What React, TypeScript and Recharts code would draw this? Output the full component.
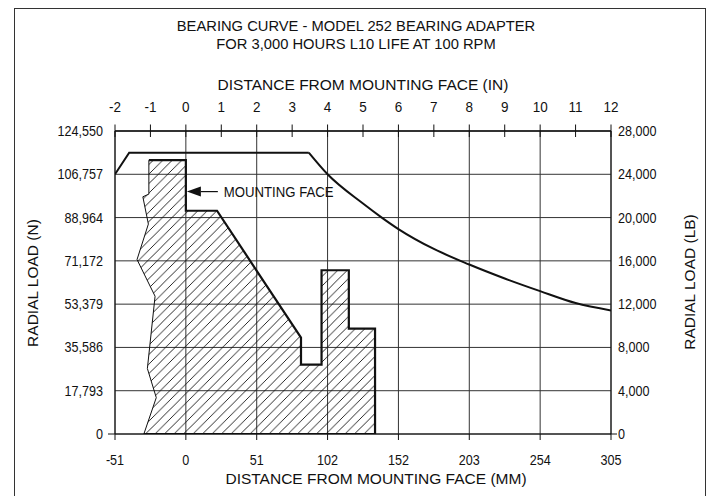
import React from 'react';
import {
  ComposedChart,
  XAxis,
  YAxis,
  CartesianGrid,
  Line,
  Area,
  ReferenceDot
} from 'recharts';

// ==========================================
// DATA (x = inches from mounting face, y = lb)
// ==========================================

const inchTicks = [-2, -1, 0, 1, 2, 3, 4, 5, 6, 7, 8, 9, 10, 11, 12];
const mmTickInches = [-2, 0, 2, 4, 6, 8, 10, 12];
const mmLabels = ['-51', '0', '51', '102', '152', '203', '254', '305'];
const newtonTicks = [0, 17793, 35586, 53379, 71172, 88964, 106757, 124550];
const poundTicks = [0, 4000, 8000, 12000, 16000, 20000, 24000, 28000];

// bearing capacity curve
const capacityFlat = [
  { x: -2, y: 24000 },
  { x: -1.6, y: 26000 },
  { x: 3.47, y: 26000 }
];
const capacityCurve = [
  { x: 3.47, y: 26000 },
  { x: 4, y: 24000 },
  { x: 5, y: 21300 },
  { x: 5.53, y: 20000 },
  { x: 6, y: 18940 },
  { x: 7, y: 17100 },
  { x: 8, y: 15660 },
  { x: 9, y: 14370 },
  { x: 10, y: 13200 },
  { x: 11, y: 12100 },
  { x: 12, y: 11420 }
];

// adapter section (thick outline)
const adapterOutline = [
  { x: -1.185, y: 0 },
  { x: 5.34, y: 0 },
  { x: 5.34, y: 9740 },
  { x: 4.6, y: 9740 },
  { x: 4.6, y: 15130 },
  { x: 3.83, y: 15130 },
  { x: 3.83, y: 6420 },
  { x: 3.25, y: 6420 },
  { x: 3.25, y: 8900 },
  { x: 0.88, y: 20630 },
  { x: 0, y: 20630 },
  { x: 0, y: 25300 },
  { x: -1.044, y: 25300 }
];

// broken-off left edge (thin line)
const breakLine = [
  { x: -1.044, y: 25300 },
  { x: -1.044, y: 22170 },
  { x: -1.214, y: 21920 },
  { x: -1.058, y: 19400 },
  { x: -1.378, y: 16120 },
  { x: -0.869, y: 12730 },
  { x: -1.086, y: 6050 },
  { x: -0.835, y: 3360 },
  { x: -1.185, y: 0 }
];

const adapterFill = [...adapterOutline, ...breakLine.slice(1)];

const mountingFace = { x: 0, y: 22400, label: 'MOUNTING FACE' };

// ==========================================
// STYLE
// ==========================================

const FONT = "'Liberation Sans', Arial, sans-serif";
const INK = '#111';
const GRID = '#333';

const TOP_TICK_SIZE = 7;
const TOP_TICK_MARGIN = 17;
const TICK_SCALE = 0.9;

// condensed svg text (source uses a narrow face)
const NarrowText = (props: any) => {
  const { x, y, anchor, size, scale, children } = props;
  return (
    <text
      transform={`translate(${x},${y}) scale(${scale},1)`}
      x={0}
      y={0}
      dy="0.36em"
      textAnchor={anchor}
      fontFamily={FONT}
      fontSize={size}
      fill={INK}
    >
      {children}
    </text>
  );
};

const TopTick = (props: any) => {
  const { x, y, payload } = props;
  const axisY = y + TOP_TICK_SIZE + TOP_TICK_MARGIN;
  return (
    <g>
      <line x1={x} x2={x} y1={axisY - 6.5} y2={axisY + 6} stroke={INK} strokeWidth={1} />
      <NarrowText x={x} y={y} anchor="middle" size={15} scale={TICK_SCALE}>
        {payload.value}
      </NarrowText>
    </g>
  );
};

const BottomTick = (props: any) => {
  const { x, y, payload } = props;
  const idx = mmTickInches.indexOf(payload.value);
  return (
    <NarrowText x={x} y={y} anchor="middle" size={14} scale={TICK_SCALE}>
      {mmLabels[idx]}
    </NarrowText>
  );
};

const LeftTick = (props: any) => {
  const { x, y, payload } = props;
  return (
    <g>
      {payload.value === 0 && (
        <line x1={x + 5} x2={x + 12} y1={y} y2={y} stroke={INK} strokeWidth={1} />
      )}
      <NarrowText x={x} y={y} anchor="end" size={14} scale={TICK_SCALE}>
        {payload.value.toLocaleString('en-US')}
      </NarrowText>
    </g>
  );
};

const RightTick = (props: any) => {
  const { x, y, payload } = props;
  return (
    <g>
      {payload.value === 0 && (
        <line x1={x - 6.5} x2={x} y1={y} y2={y} stroke={INK} strokeWidth={1} />
      )}
      <NarrowText x={x + 1} y={y} anchor="start" size={14} scale={TICK_SCALE}>
        {payload.value.toLocaleString('en-US')}
      </NarrowText>
    </g>
  );
};

const MountingArrow = (props: any) => {
  const { cx, cy } = props;
  return (
    <g>
      <polygon
        points={`${cx + 1},${cy} ${cx + 15},${cy - 5} ${cx + 15},${cy + 5}`}
        fill={INK}
      />
      <line x1={cx + 15} x2={cx + 32} y1={cy} y2={cy} stroke={INK} strokeWidth={1.2} />
      <NarrowText x={cx + 38} y={cy} anchor="start" size={15.5} scale={0.85}>
        {mountingFace.label}
      </NarrowText>
    </g>
  );
};

const textStyle: React.CSSProperties = {
  position: 'absolute',
  fontFamily: FONT,
  color: INK,
  whiteSpace: 'nowrap',
  lineHeight: 1,
  fontSize: 15.5
};

export default function App() {
  return (
    <div style={{ position: 'absolute', left: 0, top: 0, width: 710, height: 496, background: '#fff', overflow: 'hidden' }}>

      {/* FRAME */}
      <div style={{
        position: 'absolute', left: 14, top: 7.5, width: 692, height: 520,
        border: '1.5px solid #333', boxSizing: 'border-box'
      }} />

      {/* TITLES */}
      <div style={{ ...textStyle, left: 356, top: 26, transform: 'translate(-50%, -50%) scaleX(0.95)' }}>
        BEARING CURVE - MODEL 252 BEARING ADAPTER
      </div>
      <div style={{ ...textStyle, left: 356, top: 43.5, transform: 'translate(-50%, -50%) scaleX(0.95)' }}>
        FOR 3,000 HOURS L10 LIFE AT 100 RPM
      </div>
      <div style={{ ...textStyle, left: 363, top: 84.5, transform: 'translate(-50%, -50%)' }}>
        DISTANCE FROM MOUNTING FACE (IN)
      </div>
      <div style={{ ...textStyle, left: 376, top: 479, transform: 'translate(-50%, -50%)' }}>
        DISTANCE FROM MOUNTING FACE (MM)
      </div>
      <div style={{ ...textStyle, left: 33, top: 283, transform: 'translate(-50%, -50%) rotate(-90deg)' }}>
        RADIAL LOAD (N)
      </div>
      <div style={{ ...textStyle, left: 690, top: 282, transform: 'translate(-50%, -50%) rotate(-90deg)' }}>
        RADIAL LOAD (LB)
      </div>

      {/* CHART */}
      <div style={{ position: 'absolute', left: 0, top: 0 }}>
        <ComposedChart
          width={710}
          height={496}
          margin={{ top: 0, right: 0, bottom: 0, left: 0 }}
        >
          <defs>
            <pattern id="hatch" patternUnits="userSpaceOnUse" width="9.5" height="9.5">
              <path d="M-1,1 L1,-1 M0,9.5 L9.5,0 M8.5,10.5 L10.5,8.5" stroke={INK} strokeWidth={0.9} />
            </pattern>
          </defs>

          <XAxis
            xAxisId="in"
            orientation="top"
            type="number"
            dataKey="x"
            domain={[-2, 12]}
            ticks={inchTicks}
            interval={0}
            height={131}
            tickSize={TOP_TICK_SIZE}
            tickMargin={TOP_TICK_MARGIN}
            tickLine={false}
            axisLine={{ stroke: INK, strokeWidth: 1.6 }}
            tick={<TopTick />}
            allowDataOverflow
          />
          <XAxis
            xAxisId="mm"
            orientation="bottom"
            type="number"
            dataKey="x"
            domain={[-2, 12]}
            ticks={mmTickInches}
            interval={0}
            height={62}
            tickSize={6}
            tickMargin={20}
            tickLine={{ stroke: INK }}
            axisLine={{ stroke: INK }}
            tick={<BottomTick />}
            allowDataOverflow
          />
          <YAxis
            yAxisId="n"
            orientation="left"
            type="number"
            domain={[0, 124550]}
            ticks={newtonTicks}
            interval={0}
            width={115}
            tickSize={7}
            tickMargin={5}
            tickLine={false}
            axisLine={{ stroke: INK }}
            tick={<LeftTick />}
            allowDataOverflow
          />
          <YAxis
            yAxisId="lb"
            orientation="right"
            type="number"
            domain={[0, 28000]}
            ticks={poundTicks}
            interval={0}
            width={99}
            tickSize={6}
            tickMargin={0}
            tickLine={false}
            axisLine={{ stroke: INK }}
            tick={<RightTick />}
            allowDataOverflow
          />

          <CartesianGrid
            xAxisId="mm"
            yAxisId="lb"
            stroke={GRID}
            strokeWidth={1}
          />

          <Area
            xAxisId="in"
            yAxisId="lb"
            data={adapterFill}
            dataKey="y"
            type="linear"
            stroke="none"
            fill="url(#hatch)"
            fillOpacity={1}
            isAnimationActive={false}
            activeDot={false}
            dot={false}
          />
          <Line
            xAxisId="in"
            yAxisId="lb"
            data={breakLine}
            dataKey="y"
            type="linear"
            stroke={INK}
            strokeWidth={1}
            dot={false}
            activeDot={false}
            isAnimationActive={false}
          />
          <Line
            xAxisId="in"
            yAxisId="lb"
            data={adapterOutline}
            dataKey="y"
            type="linear"
            stroke={INK}
            strokeWidth={2.2}
            strokeLinejoin="miter"
            dot={false}
            activeDot={false}
            isAnimationActive={false}
          />
          <Line
            xAxisId="in"
            yAxisId="lb"
            data={capacityFlat}
            dataKey="y"
            type="linear"
            stroke={INK}
            strokeWidth={2}
            dot={false}
            activeDot={false}
            isAnimationActive={false}
          />
          <Line
            xAxisId="in"
            yAxisId="lb"
            data={capacityCurve}
            dataKey="y"
            type="monotone"
            stroke={INK}
            strokeWidth={2}
            dot={false}
            activeDot={false}
            isAnimationActive={false}
          />

          <ReferenceDot
            xAxisId="in"
            yAxisId="lb"
            x={mountingFace.x}
            y={mountingFace.y}
            shape={<MountingArrow />}
          />
        </ComposedChart>
      </div>
    </div>
  );
}
